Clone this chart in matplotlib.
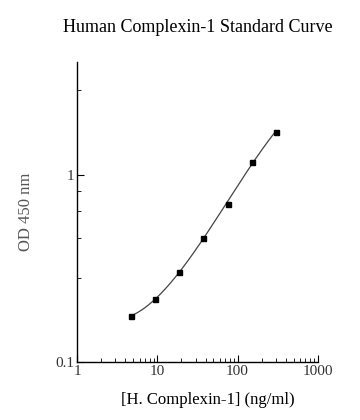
import numpy as np
import matplotlib.pyplot as plt
from matplotlib.ticker import FixedLocator, NullFormatter

# standard curve points
conc = [4.69, 9.38, 18.75, 37.5, 75, 150, 300]
od = [0.176, 0.217, 0.303, 0.460, 0.700, 1.17, 1.70]

x_major = [1, 10, 100, 1000]
x_major_labels = ['1', '10', '100', '1000']
y_major = [0.1, 1]
y_major_labels = ['0.1', '1']
y_minor = [0.28, 0.46, 0.64, 0.82, 2.85]

plt.rcParams['font.family'] = ['Liberation Serif', 'DejaVu Serif']

fig = plt.figure(figsize=(3.6, 4.2), dpi=100)
ax = fig.add_axes((0.214, 0.138, 0.669, 0.714))

# smooth fit line in log-log space
lx = np.log10(conc)
ly = np.log10(od)
coef = np.polyfit(lx, ly, 3)
xs = np.linspace(lx[0], lx[-1], 200)
ax.plot(10 ** xs, 10 ** np.polyval(coef, xs), color='#444444', linewidth=0.9)
ax.plot(conc, od, linestyle='none', marker='s', markersize=3.6,
        color='black')

ax.set_xscale('log')
ax.set_yscale('log')
ax.set_xlim(1, 1000)
ax.set_ylim(0.1, 4.0)

ax.spines['top'].set_visible(False)
ax.spines['right'].set_visible(False)
for s in ('left', 'bottom'):
    ax.spines[s].set_linewidth(1.0)

ax.xaxis.set_major_locator(FixedLocator(x_major))
ax.set_xticklabels(x_major_labels)
ax.yaxis.set_major_locator(FixedLocator(y_major))
ax.set_yticklabels(y_major_labels)
ax.yaxis.set_minor_locator(FixedLocator(y_minor))
ax.yaxis.set_minor_formatter(NullFormatter())
ax.xaxis.set_minor_formatter(NullFormatter())

ax.tick_params(which='major', direction='in', length=5, width=0.8,
               labelsize=11, labelcolor='#333333', pad=2)
ax.tick_params(which='minor', direction='in', length=3, width=0.6)

ax.set_title('Human Complexin-1 Standard Curve', fontsize=13, pad=22)
ax.set_xlabel('[H. Complexin-1] (ng/ml)', fontsize=12)
ax.set_ylabel('OD 450 nm', fontsize=12, color='#555555')
ax.xaxis.set_label_coords(0.545, -0.1)
ax.yaxis.set_label_coords(-0.18, 0.5)

fig.savefig('out.png', dpi=100)
